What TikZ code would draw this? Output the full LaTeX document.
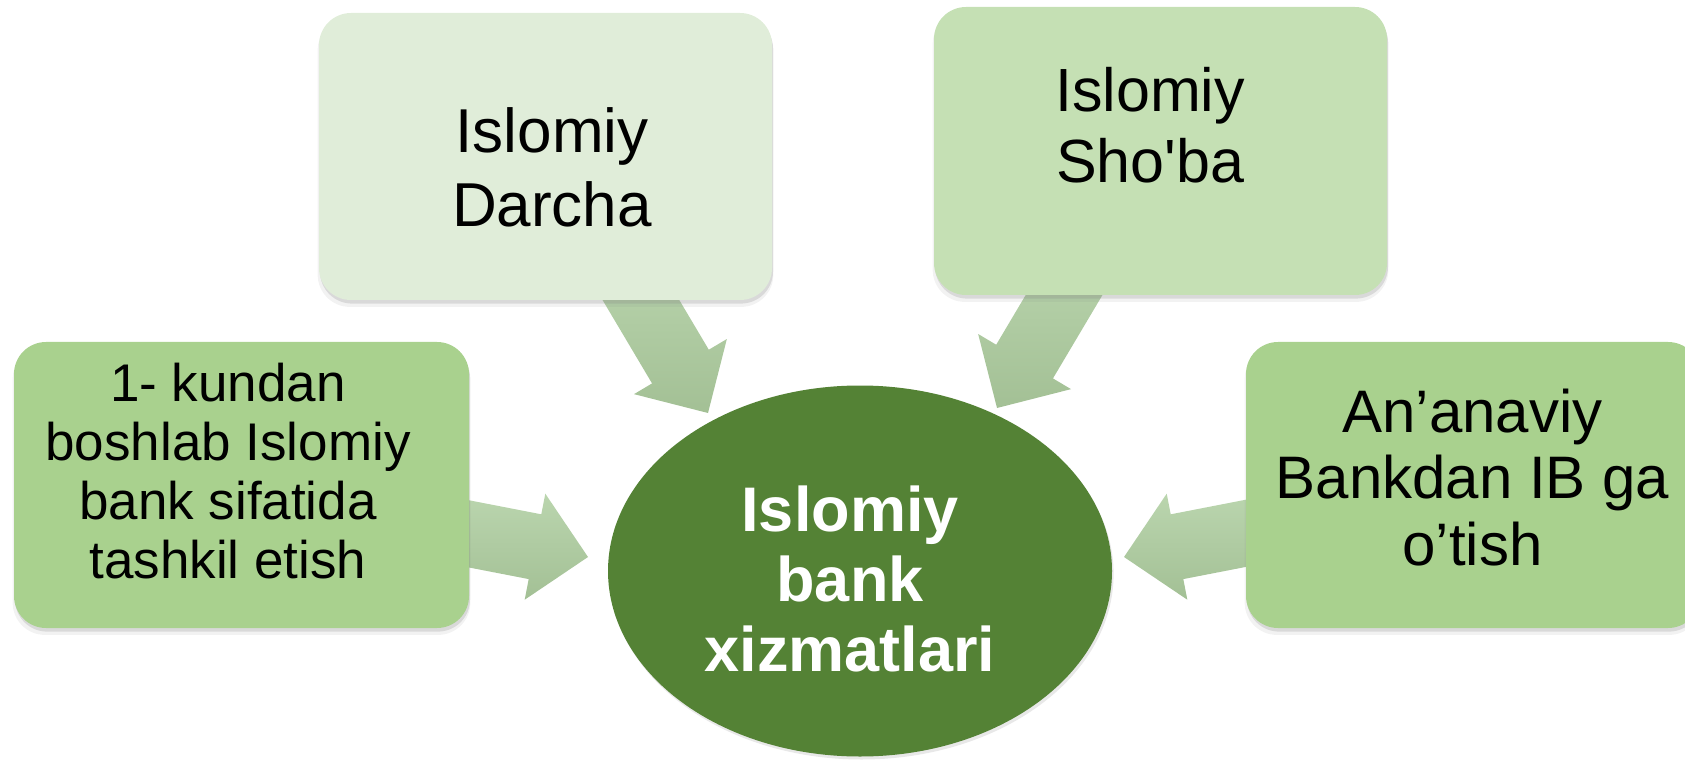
\documentclass[tikz,border=0pt]{standalone}
\usepackage{fontspec}
\setmainfont{Liberation Sans}[Ligatures=TeXOff]
\usetikzlibrary{shapes.geometric,shadows}
\definecolor{cDarcha}{HTML}{E0EDD9}
\definecolor{cShoba}{HTML}{C5E0B4}
\definecolor{cSide}{HTML}{A9D18E}
\definecolor{cCore}{HTML}{548235}
\definecolor{cArrTop}{HTML}{BBD6AF}
\definecolor{cArrBot}{HTML}{A3C095}
\tikzset{
  softshadow/.style={
    drop shadow={shadow xshift=0pt, shadow yshift=-3pt, opacity=0.10, shadow scale=1.006},
    drop shadow={shadow xshift=0.5pt, shadow yshift=-1.8pt, opacity=0.22}},
  boxbase/.style={rectangle, rounded corners=16pt, inner sep=0pt, draw=none, softshadow},
  txt/.style={align=center, inner sep=0pt, text=black},
  arrowfill/.style={top color=cArrTop, bottom color=cArrBot, draw=none},
  blockarrow/.pic={
    \shade[arrowfill] (-180,-33) -- (-54,-33) -- (-54,-54) -- (0,0) -- (-54,54) -- (-54,33) -- (-180,33) -- cycle;
  }
}
\begin{document}
\begin{tikzpicture}[x=0.5pt,y=-0.5pt]
\useasboundingbox (0,0) rectangle (1685,764);
% arrow tips (connector ends)
\coordinate (tipTL) at (708,413);
\coordinate (tipTR) at (997,408);
\coordinate (tipL)  at (588,557);
\coordinate (tipR)  at (1124,557);
% block arrows (drawn behind the boxes)
\pic[rotate=-59.3] at (tipTL) {blockarrow};
\pic[rotate=-120.7] at (tipTR) {blockarrow};
\pic[rotate=-11] at (tipL) {blockarrow};
\pic[rotate=-169] at (tipR) {blockarrow};
% boxes
\node[boxbase, fill=cDarcha, minimum width=226.5pt, minimum height=143.5pt] (darcha) at (545.5,156.5) {};
\node[boxbase, fill=cShoba, minimum width=226.5pt, minimum height=144pt] (shoba) at (1160.5,151) {};
\node[boxbase, fill=cSide, minimum width=227.5pt, minimum height=143pt] (left) at (241.5,485) {};
\node[boxbase, fill=cSide, minimum width=227pt, minimum height=143pt] (right) at (1473,485) {};
% central ellipse
\node[ellipse, fill=cCore, draw=none, inner sep=0pt, minimum width=252pt, minimum height=185.5pt,
      drop shadow={shadow xshift=0.8pt, shadow yshift=-1.5pt, opacity=0.18}] (core) at (860,571) {};
% texts
\node[txt, font={\fontsize{31}{37}\selectfont}] (darchaT) at (552,175.2) {\strut Islomiy\\Darcha\strut};
\node[txt, font={\fontsize{30.5}{35.5}\selectfont}] (shobaT) at (1150,133.3) {\strut Islomiy\\Sho'ba\strut};
\node[txt, font={\fontsize{26.5}{29.35}\selectfont}] (leftT) at (228,478.3) {\strut 1- kundan\\boshlab Islomiy\\bank sifatida\\tashkil etish\strut};
\node[txt, font={\fontsize{30}{33.25}\selectfont}] (rightT) at (1472.5,485.2) {\strut An’anaviy\\Bankdan IB ga\\o’tish\strut};
\node[txt, text=white, font={\fontsize{31.5}{35}\selectfont\bfseries}] (coreT) at (850,587.7) {\strut Islomiy\\bank\\xizmatlari\strut};
\end{tikzpicture}
\end{document}
